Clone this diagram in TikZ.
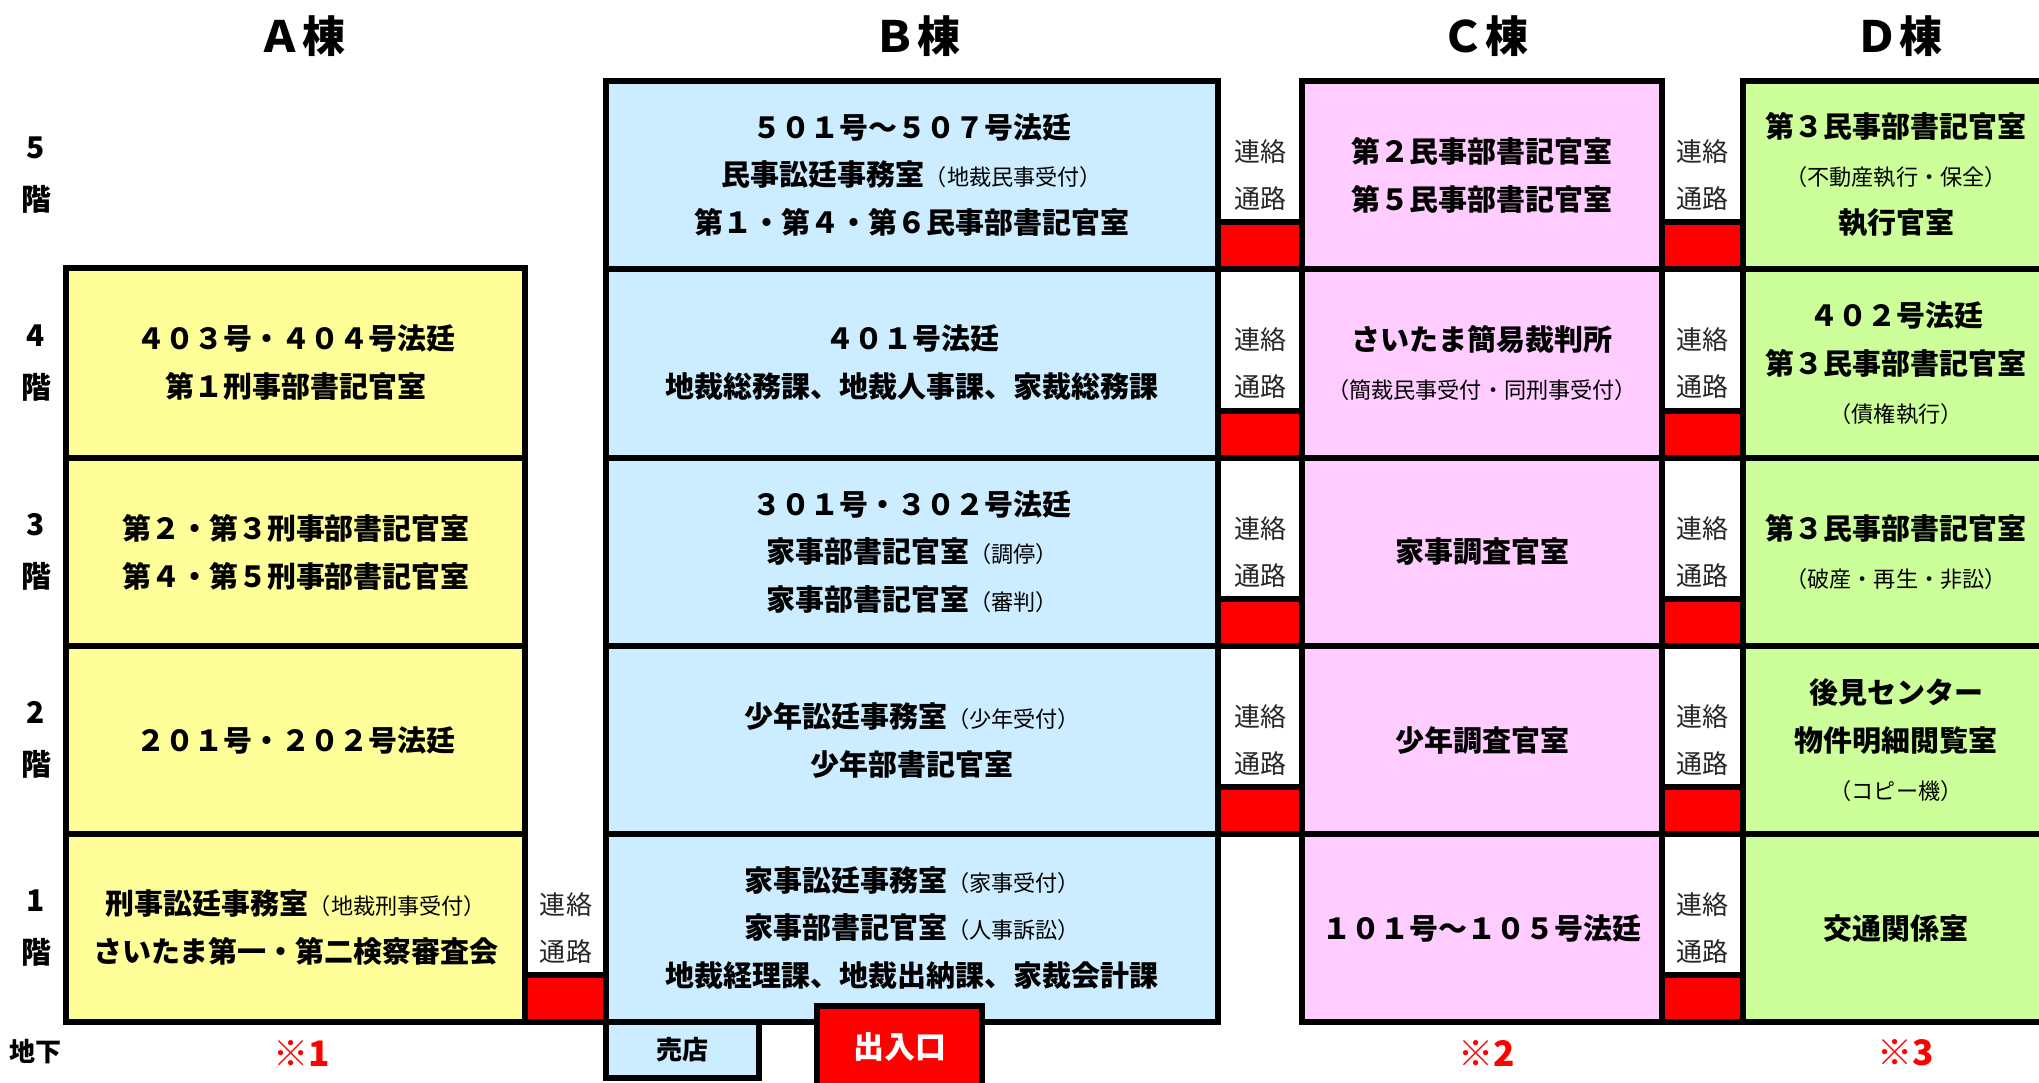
\documentclass[tikz,border=0pt]{standalone}
\usepackage{fontspec}
\setmainfont{Noto Sans CJK JP}
\usepackage{xcolor}
\definecolor{colA}{RGB}{255,255,153}
\definecolor{colB}{RGB}{204,236,255}
\definecolor{colC}{RGB}{255,204,255}
\definecolor{colD}{RGB}{204,255,153}
\newcommand{\subnote}[1]{{\fontsize{12.6}{12.6}\mdseries\selectfont #1}}
\tikzstyle{every node}=[inner sep=0pt, text centered]
\tikzstyle{wall} = [draw=black, line width=1.1mm]
\tikzstyle{passage} = [wall, fill=red]
\tikzstyle{title} = [font=\fontsize{24.5}{24.5}\selectfont\bfseries]
\tikzstyle{floorlabel} = [align=center, font=\fontsize{17}{29.6}\selectfont\bfseries]
\tikzstyle{roomtext} = [align=center, font=\fontsize{16.5}{27.3}\selectfont\bfseries]
\tikzstyle{linktext} = [align=center, text=black!85, font=\fontsize{14.8}{26.7}\selectfont]
\tikzstyle{note} = [text=red, font=\fontsize{20}{20}\selectfont\bfseries]

\begin{document}
\begin{tikzpicture}[x=0.2mm, y=-0.2mm]
    \useasboundingbox (0,0) rectangle (2039,1082);
    \clip (0,0) rectangle (2039,1082);

    % buildings
    \draw[wall, fill=colA] (66,268) rectangle (525,1022);
    \draw[wall, fill=colB] (606,81) rectangle (1218,1022);
    \draw[wall, fill=colC] (1302,81) rectangle (1662,1022);
    \draw[wall, fill=colD] (1743,81) rectangle (2070,1022);

    \draw[wall] (66,458) -- (525,458) (66,646) -- (525,646) (66,834) -- (525,834);
    \draw[wall] (606,269) -- (1218,269) (606,458) -- (1218,458) (606,646) -- (1218,646) (606,834) -- (1218,834);
    \draw[wall] (1302,269) -- (1662,269) (1302,458) -- (1662,458) (1302,646) -- (1662,646) (1302,834) -- (1662,834);
    \draw[wall] (1743,269) -- (2070,269) (1743,458) -- (2070,458) (1743,646) -- (2070,646) (1743,834) -- (2070,834);

    % passages
    \draw[passage] (525,975) rectangle (606,1022);
    \draw[passage] (1218,222) rectangle (1302,269);
    \draw[passage] (1218,411) rectangle (1302,458);
    \draw[passage] (1218,599) rectangle (1302,646);
    \draw[passage] (1218,787) rectangle (1302,834);
    \draw[passage] (1662,222) rectangle (1743,269);
    \draw[passage] (1662,411) rectangle (1743,458);
    \draw[passage] (1662,599) rectangle (1743,646);
    \draw[passage] (1662,787) rectangle (1743,834);
    \draw[passage] (1662,975) rectangle (1743,1022);

    % basement
    \draw[wall, fill=colB] (606,1022) rectangle (759,1078);
    \draw[wall, fill=red] (817,1006) rectangle (982,1110);
    \node[font=\fontsize{14.8}{14.8}\selectfont\bfseries] (shop) at (682,1050) {売店};
    \node[text=white, font=\fontsize{17.6}{17.6}\selectfont\bfseries] (entrance) at (900,1047) {出入口};

    \node[title] (ttlA) at (302,36) {Ａ棟};
    \node[title] (ttlB) at (917,36) {Ｂ棟};
    \node[title] (ttlC) at (1485,36) {Ｃ棟};
    \node[title] (ttlD) at (1899,36) {Ｄ棟};

    \node[floorlabel] (fl5) at (36,175) {5\\階};
    \node[floorlabel] (fl4) at (36,363) {4\\階};
    \node[floorlabel] (fl3) at (36,552) {3\\階};
    \node[floorlabel] (fl2) at (36,740) {2\\階};
    \node[floorlabel] (fl1) at (36,928) {1\\階};
    \node[font=\fontsize{14.8}{14.8}\selectfont\bfseries] (flB) at (36,1052) {地下};

    \node[note] (noteA) at (302,1053) {※1};
    \node[note] (noteC) at (1487,1053) {※2};
    \node[note] (noteD) at (1906,1053) {※3};

    % A
    \node[roomtext] (a4) at (296,363) {４０３号・４０４号法廷\\第１刑事部書記官室};
    \node[roomtext] (a3) at (296,552) {第２・第３刑事部書記官室\\第４・第５刑事部書記官室};
    \node[roomtext] (a2) at (296,740) {２０１号・２０２号法廷};
    \node[roomtext] (a1) at (296,928) {刑事訟廷事務室\subnote{（地裁刑事受付）}\\さいたま第一・第二検察審査会};

    % B
    \node[roomtext] (b5) at (912,175) {５０１号～５０７号法廷\\民事訟廷事務室\subnote{（地裁民事受付）}\\第１・第４・第６民事部書記官室};
    \node[roomtext] (b4) at (912,363) {４０１号法廷\\地裁総務課、地裁人事課、家裁総務課};
    \node[roomtext] (b3) at (912,552) {３０１号・３０２号法廷\\家事部書記官室\subnote{（調停）}\\家事部書記官室\subnote{（審判）}};
    \node[roomtext] (b2) at (912,740) {少年訟廷事務室\subnote{（少年受付）}\\少年部書記官室};
    \node[roomtext] (b1) at (912,928) {家事訟廷事務室\subnote{（家事受付）}\\家事部書記官室\subnote{（人事訴訟）}\\地裁経理課、地裁出納課、家裁会計課};

    % C
    \node[roomtext] (c5) at (1482,175) {第２民事部書記官室\\第５民事部書記官室};
    \node[roomtext] (c4) at (1482,363) {さいたま簡易裁判所\\\subnote{（簡裁民事受付・同刑事受付）}};
    \node[roomtext] (c3) at (1482,552) {家事調査官室};
    \node[roomtext] (c2) at (1482,740) {少年調査官室};
    \node[roomtext] (c1) at (1482,928) {１０１号～１０５号法廷};

    % D
    \node[roomtext] (d5) at (1896,175) {第３民事部書記官室\\\subnote{（不動産執行・保全）}\\執行官室};
    \node[roomtext] (d4) at (1896,363) {４０２号法廷\\第３民事部書記官室\\\subnote{（債権執行）}};
    \node[roomtext] (d3) at (1896,552) {第３民事部書記官室\\\subnote{（破産・再生・非訟）}};
    \node[roomtext] (d2) at (1896,740) {後見センター\\物件明細閲覧室\\\subnote{（コピー機）}};
    \node[roomtext] (d1) at (1896,928) {交通関係室};

    % passages text
    \node[linktext] (lnkAB1) at (566,928) {連絡\\通路};
    \node[linktext] (lnkBC5) at (1260,175) {連絡\\通路};
    \node[linktext] (lnkBC4) at (1260,363) {連絡\\通路};
    \node[linktext] (lnkBC3) at (1260,552) {連絡\\通路};
    \node[linktext] (lnkBC2) at (1260,740) {連絡\\通路};
    \node[linktext] (lnkCD5) at (1702,175) {連絡\\通路};
    \node[linktext] (lnkCD4) at (1702,363) {連絡\\通路};
    \node[linktext] (lnkCD3) at (1702,552) {連絡\\通路};
    \node[linktext] (lnkCD2) at (1702,740) {連絡\\通路};
    \node[linktext] (lnkCD1) at (1702,928) {連絡\\通路};

\end{tikzpicture}
\end{document}
